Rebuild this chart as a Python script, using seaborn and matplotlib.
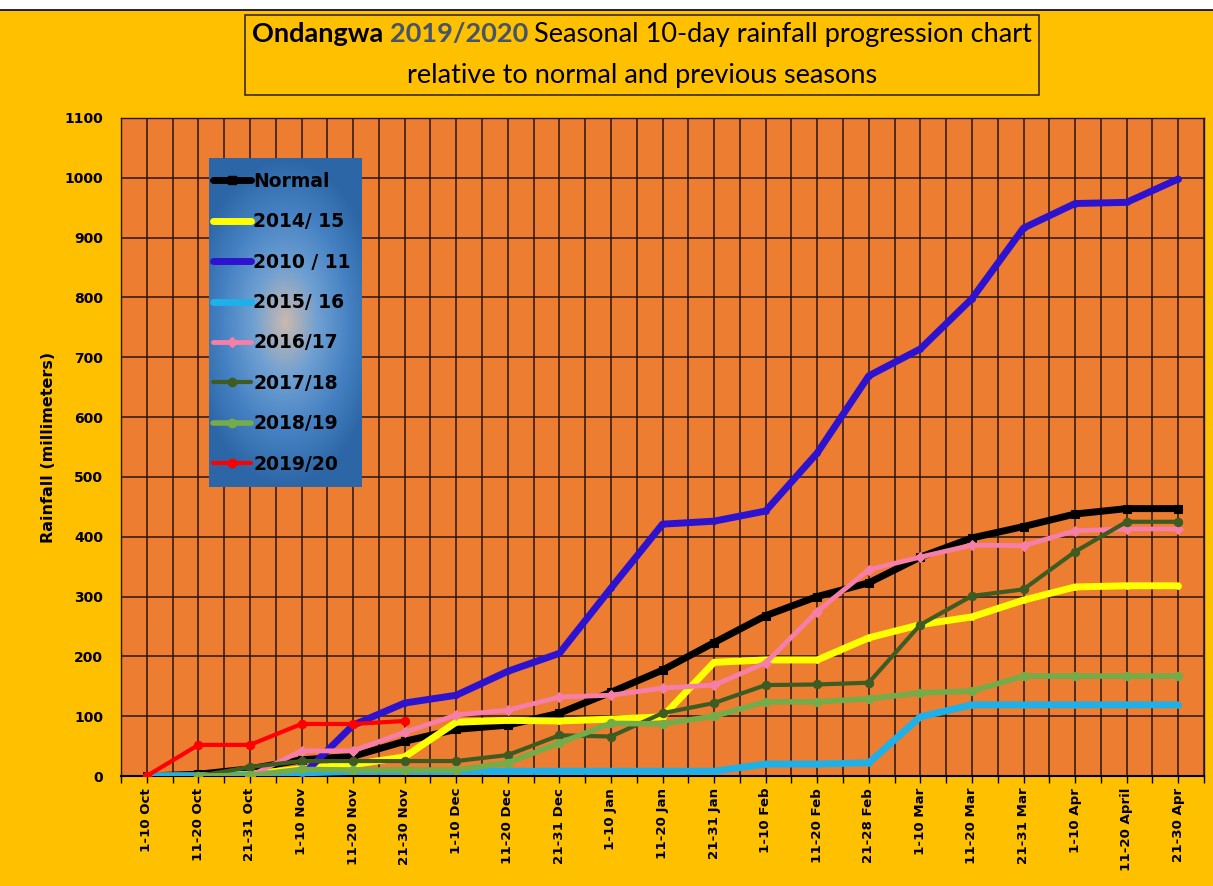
import numpy as np
import pandas as pd
import seaborn as sns
import matplotlib
matplotlib.use("Agg")
import matplotlib.pyplot as plt
from matplotlib.offsetbox import TextArea, HPacker, VPacker, AnchoredOffsetbox
from matplotlib.colors import LinearSegmentedColormap
from matplotlib.patches import Rectangle
from matplotlib.lines import Line2D

periods = ["1-10 Oct", "11-20 Oct", "21-31 Oct", "1-10 Nov", "11-20 Nov", "21-30 Nov",
           "1-10 Dec", "11-20 Dec", "21-31 Dec", "1-10 Jan", "11-20 Jan", "21-31 Jan",
           "1-10 Feb", "11-20 Feb", "21-28 Feb", "1-10 Mar", "11-20 Mar", "21-31 Mar",
           "1-10 Apr", "11-20 April", "21-30 Apr"]

NA = np.nan
normal = [0, 3, 12, 27, 33, 58, 78, 85, 105, 140, 177, 223, 268, 300, 323, 366, 398, 417, 438, 447, 447]
s1415 = [0, 0, 3, 12, 19, 32, 90, 93, 92, 95, 99, 190, 194, 194, 231, 253, 266, 294, 316, 318, 318]
s1011 = [NA, NA, NA, 0, 85, 122, 135, 175, 205, 314, 421, 426, 443, 540, 669, 714, 798, 916, 957, 959, 998]
s1516 = [0, 0, 2, 5, 8, 8, 8, 8, 8, 8, 8, 8, 20, 20, 22, 99, 119, 119, 119, 119, 119]
s1617 = [NA, NA, 0, 42, 42, 73, 102, 110, 132, 135, 147, 152, 189, 275, 345, 366, 386, 385, 410, 413, 413]
s1718 = [NA, 0, 15, 25, 25, 25, 25, 35, 68, 66, 105, 122, 152, 153, 156, 253, 301, 312, 375, 425, 425]
s1819 = [NA, 0, 1, 11, 10, 10, 10, 22, 55, 88, 87, 100, 124, 124, 129, 139, 142, 167, 167, 167, 167]
s1920 = [0, 52, 52, 87, 87, 92] + [NA] * 15

series_names = ["Normal", "2014/ 15", "2010 / 11", "2015/ 16", "2016/17", "2017/18", "2018/19", "2019/20"]
series_values = [normal, s1415, s1011, s1516, s1617, s1718, s1819, s1920]

styles = {
    "Normal":    dict(color="#000000", lw=5.0, marker="s", ms=6),
    "2014/ 15":  dict(color="#FFFF00", lw=5.0, marker="o", ms=4),
    "2010 / 11": dict(color="#2D12CF", lw=5.0, marker="o", ms=4),
    "2015/ 16":  dict(color="#1FB0E8", lw=5.0, marker="o", ms=4),
    "2016/17":   dict(color="#F57FA8", lw=3.5, marker="D", ms=5),
    "2017/18":   dict(color="#3E5C22", lw=3.0, marker="o", ms=6),
    "2018/19":   dict(color="#74AC4A", lw=4.0, marker="o", ms=6),
    "2019/20":   dict(color="#FF0000", lw=3.0, marker="o", ms=6),
}

sns.set_theme(style="white")
plt.rcParams["font.family"] = ["DejaVu Sans"]

W, H = 1213, 886
fig = plt.figure(figsize=(W / 100, H / 100), dpi=100)
fig.patch.set_facecolor("#FFC000")

# white strip at top + frame line
fig.patches.append(Rectangle((0, 1 - 10 / H), 1, 10 / H, transform=fig.transFigure,
                             facecolor="white", edgecolor="none", zorder=0))
fig.lines.append(Line2D([0, 1], [1 - 10 / H, 1 - 10 / H], transform=fig.transFigure,
                        color="black", lw=1.2))

ax = fig.add_axes([121 / W, 1 - 776 / H, (1204 - 121) / W, (776 - 118) / H])
ax.set_facecolor("#ED7D31")

x = np.arange(len(periods))
for name, vals in zip(series_names, series_values):
    df = pd.DataFrame({"x": x, "y": vals}).dropna()
    st = styles[name]
    sns.lineplot(data=df, x="x", y="y", ax=ax, color=st["color"], linewidth=st["lw"],
                 marker=st["marker"], markersize=st["ms"], markeredgecolor=st["color"],
                 estimator=None, sort=False, label=name, zorder=3)

ax.set_xlim(-0.5, len(periods) - 0.5)
ax.set_ylim(0, 1100)
ax.set_yticks(np.arange(0, 1101, 100))
ax.set_yticklabels([str(v) for v in range(0, 1101, 100)], fontsize=10, fontweight="bold", color="black")
ax.set_xticks(x)
ax.set_xticks(np.arange(-0.5, len(periods), 1.0), minor=True)
ax.set_xticklabels(periods, rotation=90, fontsize=9.6, fontweight="bold", color="black")
ax.tick_params(axis="x", which="both", direction="out", length=5, color="black", width=1, bottom=True)
ax.tick_params(axis="y", which="both", length=0, pad=13)
ax.grid(True, which="major", axis="both", color="#2A1510", lw=1.1)
ax.grid(True, which="minor", axis="x", color="#2A1510", lw=1.1)
ax.set_axisbelow(True)
for s in ["top", "right", "left"]:
    ax.spines[s].set_color("#2A1510")
    ax.spines[s].set_linewidth(1.0)
ax.spines["bottom"].set_color("black")
ax.spines["bottom"].set_linewidth(1.5)
ax.set_xlabel("")
ax.set_ylabel("Rainfall (millimeters)", fontsize=11.5, fontweight="bold", color="black", labelpad=6)

# legend background gradient
lax = fig.add_axes([209 / W, 1 - 487 / H, 153 / W, 329 / H], zorder=5)
yy, xx = np.mgrid[-1:1:200j, -1:1:120j]
r = np.sqrt((xx / 1.0) ** 2 + (yy / 0.8) ** 2)
cmap = LinearSegmentedColormap.from_list("g", ["#C9B8B0", "#6FA0D2", "#4682C3", "#2C66A6"])
lax.imshow(np.clip(r / 1.25, 0, 1), cmap=cmap, aspect="auto", extent=[0, 1, 0, 1])
lax.set_axis_off()

ax.get_legend().remove()
handles = []
for name in series_names:
    st = styles[name]
    handles.append(Line2D([], [], color=st["color"], lw=st["lw"], marker=st["marker"],
                          markersize=st["ms"], markeredgecolor=st["color"]))
leg = fig.legend(handles, series_names, loc="upper left",
                 bbox_to_anchor=(213 / W, 1 - 172 / H), frameon=False,
                 prop={"weight": "bold", "size": 13.5}, handlelength=2.0,
                 handletextpad=0.15, labelspacing=1.14, borderaxespad=0, borderpad=0)
leg.set_zorder(6)
for t in leg.get_texts():
    t.set_color("black")

# Title box
tfont = "Lato"
fs = 19.5
p1 = TextArea("Ondangwa ", textprops=dict(fontsize=fs, fontweight="bold", color="black", family=tfont))
p2 = TextArea("2019/2020 ", textprops=dict(fontsize=fs, fontweight="bold", color="#44546A", family=tfont))
p3 = TextArea("Seasonal 10-day rainfall progression chart", textprops=dict(fontsize=fs, color="black", family=tfont))
line1 = HPacker(children=[p1, p2, p3], align="baseline", pad=0, sep=0)
line2 = TextArea("relative to normal and previous seasons", textprops=dict(fontsize=fs, color="black", family=tfont))
box = VPacker(children=[line1, line2], align="center", pad=0, sep=12)
ab = AnchoredOffsetbox(loc="center", child=box, pad=0.45, frameon=True,
                       bbox_to_anchor=(642 / W, 1 - 55 / H), bbox_transform=fig.transFigure,
                       borderpad=0)
ab.patch.set_facecolor("#FFC000")
ab.patch.set_edgecolor("#3A2A10")
ab.patch.set_linewidth(1.2)
ab.patch.set_boxstyle("square,pad=0")
fig.add_artist(ab)

fig.savefig("out.png", dpi=100, facecolor=fig.get_facecolor())
